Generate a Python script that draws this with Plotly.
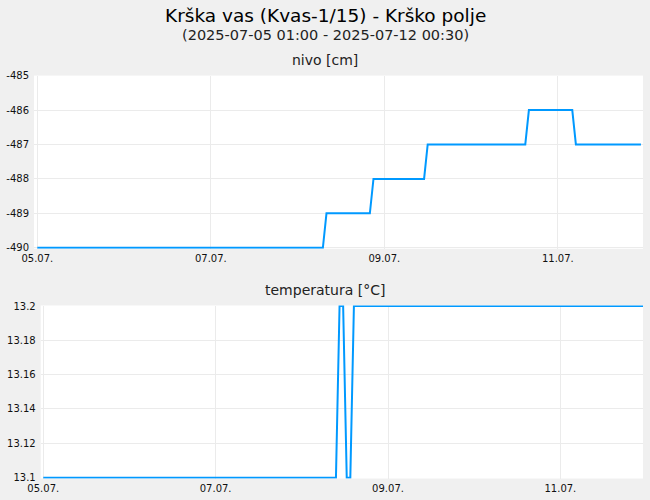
import plotly.graph_objects as go

# ---- data ----
nivo_times = ['2025-07-05 00:00', '2025-07-08 07:00', '2025-07-08 08:00',
              '2025-07-08 20:00', '2025-07-08 21:00', '2025-07-09 11:00',
              '2025-07-09 12:00', '2025-07-10 15:00', '2025-07-10 16:00',
              '2025-07-11 04:00', '2025-07-11 05:00', '2025-07-11 23:00']
nivo_values = [-490, -490, -489, -489, -488, -488, -487, -487, -486, -486, -487, -487]

temp_times = ['2025-07-05 00:00', '2025-07-08 09:30', '2025-07-08 10:30',
              '2025-07-08 11:30', '2025-07-08 12:30', '2025-07-08 13:30',
              '2025-07-08 14:30', '2025-07-11 23:00']
temp_values = [13.1, 13.1, 13.2, 13.2, 13.1, 13.1, 13.2, 13.2]

x_tickvals = ['2025-07-05', '2025-07-07', '2025-07-09', '2025-07-11']
x_ticktext = ['05.07.', '07.07.', '09.07.', '11.07.']
nivo_tickvals = [-490, -489, -488, -487, -486, -485]
nivo_ticktext = ['-490', '-489', '-488', '-487', '-486', '-485']
temp_tickvals = [13.1, 13.12, 13.14, 13.16, 13.18, 13.2]
temp_ticktext = ['13.1', '13.12', '13.14', '13.16', '13.18', '13.2']

title_main = 'Krška vas (Kvas-1/15) - Krško polje'
title_sub = '(2025-07-05 01:00 - 2025-07-12 00:30)'
title_nivo = 'nivo [cm]'
title_temp = 'temperatura [°C]'

# ---- styling ----
W, H = 650, 500
FONT = 'DejaVu Sans'
LINE = '#0099ff'
GRID = '#ebebeb'
BG = '#f0f0f0'

def px_x(p):
    return p / W

def px_y(p):
    return 1 - p / H

fig = go.Figure()
fig.add_trace(go.Scatter(x=nivo_times, y=nivo_values, mode='lines',
                         line=dict(color=LINE, width=2), xaxis='x', yaxis='y',
                         showlegend=False, hoverinfo='skip'))
fig.add_trace(go.Scatter(x=temp_times, y=temp_values, mode='lines',
                         line=dict(color=LINE, width=2), xaxis='x2', yaxis='y2',
                         showlegend=False, hoverinfo='skip'))

axis_common = dict(showgrid=True, gridcolor=GRID, gridwidth=1, zeroline=False,
                   showline=False, ticks='', automargin=False,
                   tickfont=dict(family=FONT, size=10, color='#111'),
                   fixedrange=True)

fig.update_layout(
    width=W, height=H,
    margin=dict(l=0, r=0, t=0, b=0, pad=0, autoexpand=False),
    paper_bgcolor=BG, plot_bgcolor='white',
    font=dict(family=FONT, color='#111'),
    xaxis=dict(domain=[px_x(34), px_x(643)], anchor='y', type='date',
               range=['2025-07-04 23:05', '2025-07-11 23:34'],
               tickmode='array', tickvals=x_tickvals, ticktext=x_ticktext,
               ticklabelstandoff=2, **axis_common),
    yaxis=dict(domain=[px_y(248.8), px_y(75.6)], anchor='x',
               range=[-490.03, -485],
               tickmode='array', tickvals=nivo_tickvals, ticktext=nivo_ticktext,
               ticklabelstandoff=4, **axis_common),
    xaxis2=dict(domain=[px_x(40.7), px_x(643)], anchor='y2', type='date',
                range=['2025-07-04 23:17', '2025-07-11 23:00'],
                tickmode='array', tickvals=x_tickvals, ticktext=x_ticktext,
                ticklabelstandoff=2, **axis_common),
    yaxis2=dict(domain=[px_y(478.5), px_y(305.5)], anchor='x2',
                range=[13.0995, 13.2003],
                tickmode='array', tickvals=temp_tickvals, ticktext=temp_ticktext,
                ticklabelstandoff=4, **axis_common),
    annotations=[
        dict(text=title_main, x=0.5, y=px_y(15), xref='paper', yref='paper',
             showarrow=False, xanchor='center', yanchor='middle',
             font=dict(family=FONT, size=18.5, color='#000')),
        dict(text=title_sub, x=0.5, y=px_y(35), xref='paper', yref='paper',
             showarrow=False, xanchor='center', yanchor='middle',
             font=dict(family=FONT, size=14.5, color='#222')),
        dict(text=title_nivo, x=0.5, y=px_y(60), xref='paper', yref='paper',
             showarrow=False, xanchor='center', yanchor='middle',
             font=dict(family=FONT, size=14, color='#222')),
        dict(text=title_temp, x=0.5, y=px_y(290), xref='paper', yref='paper',
             showarrow=False, xanchor='center', yanchor='middle',
             font=dict(family=FONT, size=14, color='#222')),
    ],
)

fig.write_html('out.html', config={'displayModeBar': False},
               post_script="document.body.style.margin='0';document.body.style.padding='0';")
